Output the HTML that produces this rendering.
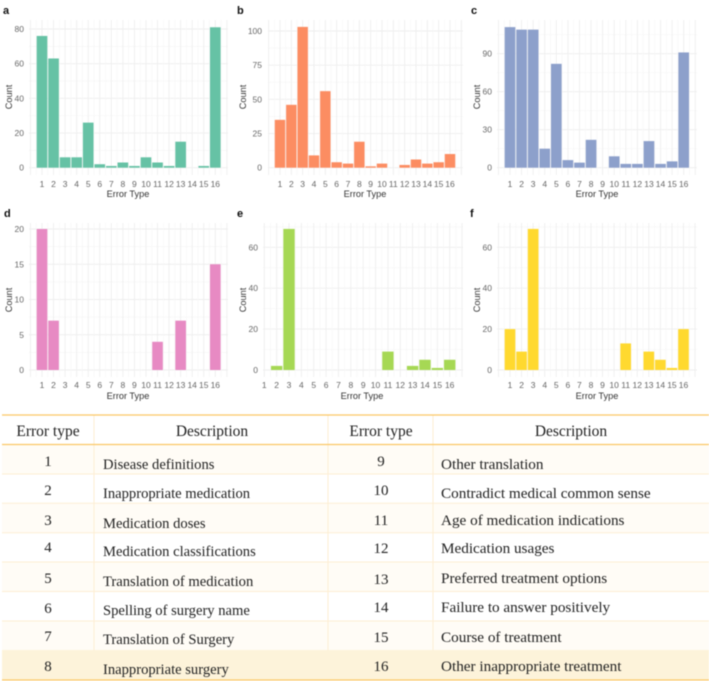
<!DOCTYPE html>
<html lang="en">
<head>
<meta charset="utf-8">
<title>Error type counts</title>
<style>
html,body{margin:0;padding:0;background:#fff;width:709px;height:681px;overflow:hidden}
svg{display:block;filter:blur(.4px)}
.tick{font:8.5px "Liberation Sans",sans-serif;fill:#666}
.axt{font:9.2px "Liberation Sans",sans-serif;fill:#333}
.tag{font:bold 11px "Liberation Sans",sans-serif;fill:#111}
.th{font:15.5px "Liberation Serif",serif;fill:#222;text-anchor:middle}
.num{font:15px "Liberation Serif",serif;fill:#222;text-anchor:middle}
.d{font:14.6px "Liberation Serif",serif;fill:#222}
.dr{font:15.2px "Liberation Serif",serif;fill:#222}
</style>
</head>
<body>
<svg id="fig" xmlns="http://www.w3.org/2000/svg" width="709" height="681" viewBox="0 0 709 681">
  <g id="charts"></g>
  <g>
    <rect x="2" y="445" width="707" height="29" fill="#fffcf6"/>
    <rect x="2" y="503" width="707" height="30" fill="#fffcf6"/>
    <rect x="2" y="562" width="707" height="30" fill="#fffcf6"/>
    <rect x="2" y="621" width="707" height="29" fill="#fffcf6"/>
    <rect x="2" y="650" width="707" height="30" fill="#fdf3da"/>
    <g stroke="#fdeed3" stroke-width="1">
      <line x1="2" x2="709" y1="474" y2="474"/><line x1="2" x2="709" y1="503.3" y2="503.3"/>
      <line x1="2" x2="709" y1="532.7" y2="532.7"/><line x1="2" x2="709" y1="562" y2="562"/>
      <line x1="2" x2="709" y1="591.5" y2="591.5"/><line x1="2" x2="709" y1="621" y2="621"/>
      <line x1="94" x2="94" y1="415" y2="650"/><line x1="328" x2="328" y1="415" y2="650"/><line x1="433" x2="433" y1="415" y2="650"/>
    </g>
    <g stroke="#fbc765" stroke-width="1.2">
      <line x1="2" x2="709" y1="415" y2="415"/><line x1="2" x2="709" y1="444.5" y2="444.5"/><line x1="2" x2="709" y1="680" y2="680"/>
    </g>
    <g>
      <text class="th" x="48" y="436">Error type</text>
      <text class="th" x="212" y="436">Description</text>
      <text class="th" x="381" y="436">Error type</text>
      <text class="th" x="571" y="436">Description</text>
    </g>
    <g>
      <text class="num" x="48" y="466">1</text><text class="d" x="103" y="469">Disease definitions</text>
      <text class="num" x="48" y="495">2</text><text class="d" x="103" y="498">Inappropriate medication</text>
      <text class="num" x="48" y="525">3</text><text class="d" x="103" y="528">Medication doses</text>
      <text class="num" x="48" y="552">4</text><text class="d" x="103" y="556">Medication classifications</text>
      <text class="num" x="48" y="583">5</text><text class="d" x="103" y="586">Translation of medication</text>
      <text class="num" x="48" y="613">6</text><text class="d" x="103" y="615">Spelling of surgery name</text>
      <text class="num" x="48" y="641">7</text><text class="d" x="103" y="644">Translation of Surgery</text>
      <text class="num" x="48" y="671">8</text><text class="d" x="103" y="674">Inappropriate surgery</text>
    </g>
    <g>
      <text class="num" x="381" y="466">9</text><text class="dr" x="441" y="469">Other translation</text>
      <text class="num" x="381" y="495">10</text><text class="dr" x="441" y="498">Contradict medical common sense</text>
      <text class="num" x="381" y="525">11</text><text class="dr" x="441" y="525">Age of medication indications</text>
      <text class="num" x="381" y="553">12</text><text class="dr" x="441" y="553">Medication usages</text>
      <text class="num" x="381" y="584">13</text><text class="dr" x="441" y="583">Preferred treatment options</text>
      <text class="num" x="381" y="612">14</text><text class="dr" x="441" y="612">Failure to answer positively</text>
      <text class="num" x="381" y="642">15</text><text class="dr" x="441" y="642">Course of treatment</text>
      <text class="num" x="381" y="671">16</text><text class="dr" x="441" y="671">Other inappropriate treatment</text>
    </g>
  </g>
</svg>
<script>
const categories = [1,2,3,4,5,6,7,8,9,10,11,12,13,14,15,16];
const valuesA = [76,63,6,6,26,2,1,3,1,6,3,1,15,0,1,81];
const valuesB = [35,46,103,9,56,4,3,19,1,3,0,2,6,3,4,10];
const valuesC = [111,109,109,15,82,6,4,22,0,9,3,3,21,3,5,91];
const valuesD = [20,7,0,0,0,0,0,0,0,0,4,0,7,0,0,15];
const valuesE = [0,2,69,0,0,0,0,0,0,0,9,0,2,5,1,5];
const valuesF = [20,9,69,0,0,0,0,0,0,0,13,0,9,5,1,20];
const ticksA = [0,20,40,60,80];
const ticksB = [0,25,50,75,100];
const ticksC = [0,30,60,90];
const ticksD = [0,5,10,15,20];
const ticksE = [0,20,40,60];
const ticksF = [0,20,40,60];

const NS = 'http://www.w3.org/2000/svg';
const root = document.getElementById('charts');
function mk(parent, tag, attrs, text) {
  const el = document.createElementNS(NS, tag);
  for (const k in attrs) el.setAttribute(k, attrs[k]);
  if (text !== undefined) el.textContent = text;
  parent.appendChild(el);
  return el;
}

function drawPanel(tag, values, ticks, color, L) {
  const xScale = c => L.x1 + (c - 1) * (L.x16 - L.x1) / 15;
  const yScale = v => L.y0 - (v / ticks[ticks.length - 1]) * (L.y0 - L.yTop);
  const step = (L.x16 - L.x1) / 15;
  const tickGap = ticks[1] - ticks[0];

  const g = mk(root, 'g', {});
  
  

  const grid = mk(g, 'g', {});
  
  
  for (let v = -tickGap / 2; yScale(v) >= L.top; v += tickGap / 2) {
    if (yScale(v) > L.bottom) continue;
    const major = ticks.includes(v);
    mk(grid, 'line', {x1: L.left, x2: L.right, y1: yScale(v), y2: yScale(v), stroke: major ? '#eeeeee' : '#f6f6f6', 'stroke-width': major ? 0.9 : 0.7});
  }
  for (let c = categories[0] - 1; c <= categories[categories.length - 1] + 1; c += 0.5) {
    const px = xScale(c);
    if (px < L.left || px > L.right) continue;
    const major = Number.isInteger(c);
    mk(grid, 'line', {x1: px, x2: px, y1: L.top, y2: L.bottom, stroke: major ? '#eeeeee' : '#f6f6f6', 'stroke-width': major ? 0.9 : 0.7});
  }

  const bars = mk(g, 'g', {});
  
  
  values.forEach((v, i) => {
    if (v <= 0) return;
    const c = categories[i];
    const rect = mk(bars, 'rect', {x: xScale(c) - step * 0.46, width: step * 0.92, y: yScale(v), height: yScale(0) - yScale(v), fill: color});
    
    
  });

  ticks.forEach(v => {
    const t = mk(g, 'text', {class: 'tick', x: L.yLabelX, y: yScale(v) + 3, 'text-anchor': 'end'}, String(v));
    
    
  });
  categories.forEach(c => {
    const t = mk(g, 'text', {class: 'tick', x: xScale(c), y: L.xLabelY, 'text-anchor': 'middle'}, String(c));
    
    
  });

  const xt = mk(g, 'text', {class: 'axt', x: L.xTitleX, y: L.xTitleY, 'text-anchor': 'middle'}, 'Error Type');
  
  
  const yt = mk(g, 'text', {class: 'axt', transform: 'translate(' + L.yTitleX + ' ' + L.yTitleY + ') rotate(-90)', 'text-anchor': 'middle'}, 'Count');
  
  
  const lb = mk(g, 'text', {class: 'tag', x: L.tagX, y: L.tagY}, tag);
  
  
}

const topRow = {y0: 167.7, top: 20, bottom: 175, xLabelY: 187, xTitleY: 197, yTitleY: 97, tagY: 14};
const botRow = {y0: 370, top: 223, bottom: 377, xLabelY: 388, xTitleY: 399, yTitleY: 300, tagY: 217};
drawPanel('a', valuesA, ticksA, '#66c2a5', {...topRow, x1: 42, x16: 215.3, yTop: 29, left: 29, right: 228, yLabelX: 24, xTitleX: 128, yTitleX: 12, tagX: 3});
drawPanel('b', valuesB, ticksB, '#fc8d62', {...topRow, x1: 280, x16: 450, yTop: 31, left: 268, right: 463, yLabelX: 262, xTitleX: 365, yTitleX: 246, tagX: 237});
drawPanel('c', valuesC, ticksC, '#8da0cb', {...topRow, x1: 510, x16: 683.7, yTop: 53.7, left: 497, right: 697, yLabelX: 492, xTitleX: 597, yTitleX: 480, tagX: 471});
drawPanel('d', valuesD, ticksD, '#e78ac3', {...botRow, x1: 42, x16: 215.3, yTop: 229, left: 29, right: 228, yLabelX: 24, xTitleX: 128, yTitleX: 12, tagX: 4});
drawPanel('e', valuesE, ticksE, '#a6d854', {...botRow, x1: 264.3, x16: 449.7, yTop: 247.3, left: 263, right: 463, yLabelX: 258, xTitleX: 362, yTitleX: 246, tagX: 237});
drawPanel('f', valuesF, ticksF, '#ffd92f', {...botRow, x1: 510, x16: 683.5, yTop: 247.3, left: 497, right: 697, yLabelX: 492, xTitleX: 597, yTitleX: 480, tagX: 470});
</script>
</body>
</html>
